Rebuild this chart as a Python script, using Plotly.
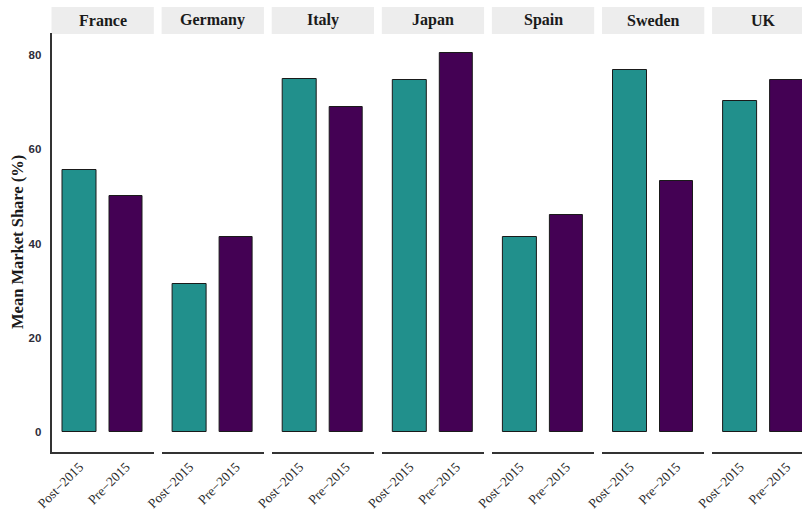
import plotly.graph_objects as go

# Mean market share by country and period
countries = ["France", "Germany", "Italy", "Japan", "Spain", "Sweden", "UK"]
periods = ["Post\u22122015", "Pre\u22122015"]
post_2015 = [55.6, 31.4, 74.9, 74.7, 41.4, 76.8, 70.2]
pre_2015 = [50.1, 41.4, 69.0, 80.4, 46.0, 53.3, 74.7]
y_ticks = [0, 20, 40, 60, 80]

colors = {"Post\u22122015": "#21908C", "Pre\u22122015": "#440154"}

W, H = 802, 510
panel_left0 = 51.5
panel_w = 102.3
panel_step = 110.1
plot_top, plot_bottom = 33, 452
strip_top, strip_bottom = 7, 34

y_range = [-4.24, 84.67]
x_lo, x_hi = 0.4, 2.6

fig = go.Figure()
layout = {}
shapes = []
annotations = []

for i, country in enumerate(countries):
    left = panel_left0 + i * panel_step
    right = left + panel_w
    hi = x_hi
    if right > W:
        # the last facet runs past the page edge; shorten its range to match
        hi = x_lo + (W - left) / panel_w * (x_hi - x_lo)
        right = W
    ax = "x" if i == 0 else f"x{i + 1}"
    key = "xaxis" if i == 0 else f"xaxis{i + 1}"

    vals = [post_2015[i], pre_2015[i]]
    for p, v in zip(periods, vals):
        fig.add_trace(go.Bar(
            x=[p], y=[v], xaxis=ax, yaxis="y",
            marker=dict(color=colors[p], line=dict(color="#1a1a1a", width=1)),
            width=0.72, showlegend=False,
        ))

    layout[key] = dict(
        domain=[left / W, right / W], anchor="y",
        type="category", categoryorder="array", categoryarray=periods,
        range=[x_lo - 1, hi - 1],
        showgrid=False, zeroline=False,
        showline=True, linecolor="#333333", linewidth=1.6,
        ticks="", tickangle=-45, automargin=False,
        tickfont=dict(family="Liberation Serif", size=13.5, color="#2a2a2a"),
        fixedrange=True,
    )

    shapes.append(dict(
        type="rect", xref="paper", yref="paper",
        x0=left / W, x1=(left + panel_w) / W if left + panel_w <= W else 1.0,
        y0=(H - strip_bottom) / H, y1=(H - strip_top) / H,
        fillcolor="#EDEDED", line=dict(width=0), layer="below",
    ))
    annotations.append(dict(
        text=f"<b>{country}</b>", xref="paper", yref="paper",
        x=(left + panel_w / 2) / W, y=(H - (strip_top + strip_bottom) / 2) / H,
        showarrow=False, xanchor="center", yanchor="middle",
        font=dict(family="Liberation Serif", size=16, color="#1a1a1a"),
    ))

annotations.append(dict(
    text="<b>Mean Market Share (%)</b>", xref="paper", yref="paper",
    x=17 / W, y=(H - 242) / H, textangle=-90,
    showarrow=False, xanchor="center", yanchor="middle",
    font=dict(family="Liberation Serif", size=16.5, color="#1a1a1a"),
))

layout["yaxis"] = dict(
    domain=[(H - plot_bottom) / H, (H - plot_top) / H], anchor="x",
    range=y_range, tickvals=y_ticks,
    showgrid=False, zeroline=False,
    showline=True, linecolor="#333333", linewidth=1.6,
    ticks="", ticklabelstandoff=6, automargin=False,
    tickfont=dict(family="Liberation Sans", size=11.5, color="#2d2d3a", weight="bold"),
    fixedrange=True,
)

fig.update_layout(
    width=W, height=H,
    margin=dict(l=0, r=0, t=0, b=0, autoexpand=False),
    paper_bgcolor="white", plot_bgcolor="white",
    bargap=0, barmode="group",
    shapes=shapes, annotations=annotations,
    **layout,
)

fig.write_html("out.html", config={"displayModeBar": False})
